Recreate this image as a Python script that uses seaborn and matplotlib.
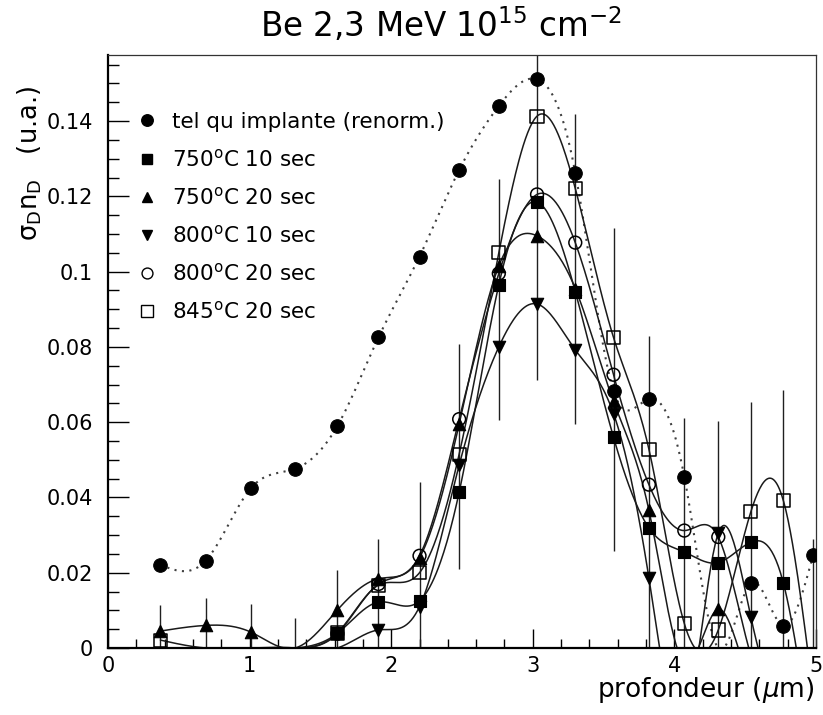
import numpy as np
import matplotlib
matplotlib.use("Agg")
import matplotlib.pyplot as plt
from matplotlib.lines import Line2D
from matplotlib.ticker import FixedLocator, MultipleLocator
import seaborn as sns

# depth of each measured slice (micrometres)
depth = [0.37, 0.69, 1.01, 1.32, 1.62, 1.91, 2.20, 2.48, 2.76, 3.03,
         3.30, 3.57, 3.82, 4.07, 4.31, 4.54, 4.77, 4.98]

# sigma_D * n_D profiles (arbitrary units); negative values fall below the plotted range
implante = [0.0221, 0.0232, 0.0425, 0.0476, 0.0590, 0.0825, 0.1040, 0.1270, 0.1440, 0.1511,
            0.1263, 0.0683, 0.0662, 0.0455, 0.0, 0.0172, 0.0059, 0.0247]
t750_10 = [0.0, 0.0, 0.0, 0.0, 0.0039, 0.0122, 0.0125, 0.0414, 0.0965, 0.1185,
           0.0947, 0.0560, 0.0319, 0.0255, 0.0227, 0.0281, 0.0172, -0.030]
t750_20 = [0.0045, 0.0060, 0.0042, 0.0, 0.0101, 0.0184, 0.0240, 0.0595, 0.1015, 0.1095,
           0.0955, 0.0655, 0.0366, -0.004, 0.0103, -0.010, -0.020, -0.030]
t800_10 = [0.0, 0.0, 0.0, 0.0, 0.0, 0.0048, 0.0110, 0.0486, 0.0800, 0.0914,
           0.0792, 0.0623, 0.0186, -0.020, 0.0305, 0.0082, -0.020, -0.030]
t800_20 = [0.0, 0.0, 0.0, 0.0, 0.0038, 0.0170, 0.0245, 0.0608, 0.0995, 0.1205,
           0.1077, 0.0726, 0.0434, 0.0312, 0.0295, -0.002, -0.020, -0.030]
t845_20 = [0.0021, 0.0, 0.0, 0.0, 0.0040, 0.0167, 0.0200, 0.0515, 0.1050, 0.1413,
           0.1221, 0.0825, 0.0528, 0.0065, 0.0048, 0.0362, 0.0391, -0.012]

# error bar extents at each depth
err_low = [-0.003, -0.001, -0.003, -0.008, -0.002, -0.001, -0.006, 0.0209, 0.0606, 0.0713,
           0.0596, 0.0258, -0.005, -0.010, -0.016, -0.010, -0.034, -0.004]
err_high = [0.0114, 0.0132, 0.0116, 0.0079, 0.0207, 0.0290, 0.0442, 0.0808, 0.1247, 0.1670,
            0.1418, 0.1116, 0.0830, 0.0611, 0.0602, 0.0654, 0.0686, 0.0290]

labels = ["tel qu implante (renorm.)",
          r"750$^{\rm o}$C 10 sec",
          r"750$^{\rm o}$C 20 sec",
          r"800$^{\rm o}$C 10 sec",
          r"800$^{\rm o}$C 20 sec",
          r"845$^{\rm o}$C 20 sec"]

xticks = [0, 1, 2, 3, 4, 5]
xtick_labels = ["0", "1", "2", "3", "4", "5"]
yticks = [0, 0.02, 0.04, 0.06, 0.08, 0.1, 0.12, 0.14]
ytick_labels = ["0", "0.02", "0.04", "0.06", "0.08", "0.1", "0.12", "0.14"]


def natural_spline(xk, yk, num=600):
    """Smooth curve through the points (natural cubic spline)."""
    xk = np.asarray(xk, float)
    yk = np.asarray(yk, float)
    n = len(xk)
    h = np.diff(xk)
    A = np.zeros((n, n))
    rhs = np.zeros(n)
    A[0, 0] = A[-1, -1] = 1.0
    for i in range(1, n - 1):
        A[i, i - 1] = h[i - 1]
        A[i, i] = 2 * (h[i - 1] + h[i])
        A[i, i + 1] = h[i]
        rhs[i] = 6 * ((yk[i + 1] - yk[i]) / h[i] - (yk[i] - yk[i - 1]) / h[i - 1])
    m = np.linalg.solve(A, rhs)
    xs = np.linspace(xk[0], xk[-1], num)
    j = np.clip(np.searchsorted(xk, xs) - 1, 0, n - 2)
    hj = h[j]
    t0 = xk[j + 1] - xs
    t1 = xs - xk[j]
    ys = ((m[j] * t0 ** 3 + m[j + 1] * t1 ** 3) / (6 * hj)
          + (yk[j] / hj - m[j] * hj / 6) * t0
          + (yk[j + 1] / hj - m[j + 1] * hj / 6) * t1)
    return xs, ys


sns.set_style("white")
plt.rcParams["font.family"] = ["DejaVu Sans"]
plt.rcParams["mathtext.fontset"] = "dejavusans"
plt.rcParams["text.color"] = "black"
plt.rcParams["axes.labelcolor"] = "black"
plt.rcParams["xtick.color"] = "black"
plt.rcParams["ytick.color"] = "black"

fig = plt.figure(figsize=(8.23, 7.15), dpi=100)
W, H = 823, 715
ax = fig.add_axes([108 / W, 1 - 648 / H, (816 - 108) / W, (648 - 55) / H])

series = [
    (implante, "o", True, 95, (0, (1, 2.6))),
    (t750_10, "s", True, 70, "-"),
    (t750_20, "^", True, 80, "-"),
    (t800_10, "v", True, 80, "-"),
    (t800_20, "o", False, 85, "-"),
    (t845_20, "s", False, 90, "-"),
]

# error bars
ax.vlines(depth, err_low, err_high, color="#202020", lw=1.0, zorder=1)

for vals, mk, filled, size, ls in series:
    xs, ys = natural_spline(depth, vals)
    sns.lineplot(x=xs, y=ys, ax=ax, color="#404040" if ls != "-" else "#1a1a1a",
                 lw=1.5 if ls != "-" else 1.1, linestyle=ls,
                 estimator=None, sort=False, legend=False, zorder=2)
    keep = [(d, v) for d, v in zip(depth, vals) if v > 0.0005]
    xv = [d for d, _ in keep]
    yv = [v for _, v in keep]
    if filled:
        sns.scatterplot(x=xv, y=yv, ax=ax, marker=mk, s=size, color="black",
                        edgecolor="black", linewidth=0.8, legend=False, zorder=4)
    else:
        sns.scatterplot(x=xv, y=yv, ax=ax, marker=mk, s=size, color="none",
                        edgecolor="black", linewidth=1.1, legend=False, zorder=3)

ax.set_xlim(0, 5)
ax.set_ylim(0, (648 - 55) / 3764)
ax.xaxis.set_major_locator(FixedLocator(xticks))
ax.set_xticklabels(xtick_labels)
ax.xaxis.set_minor_locator(MultipleLocator(0.2))
ax.yaxis.set_major_locator(FixedLocator(yticks))
ax.set_yticklabels(ytick_labels)
ax.yaxis.set_minor_locator(MultipleLocator(0.005))
ax.tick_params(which="both", direction="in", top=False, right=False,
               bottom=True, left=True, colors="black", labelsize=15, width=1.0)
ax.tick_params(axis="x", which="major", length=14, pad=6)
ax.tick_params(axis="x", which="minor", length=6.5)
ax.tick_params(axis="y", which="major", length=15, pad=11)
ax.tick_params(axis="y", which="minor", length=8)
for side in ["left", "bottom"]:
    ax.spines[side].set_linewidth(1.6)
    ax.spines[side].set_color("black")
for side in ["top", "right"]:
    ax.spines[side].set_linewidth(0.9)
    ax.spines[side].set_color("#333333")

handles = []
for vals, mk, filled, size, ls in series:
    handles.append(Line2D([], [], linestyle="none", marker=mk,
                          markersize=np.sqrt(size) * 0.85,
                          markerfacecolor="black" if filled else "none",
                          markeredgecolor="black", markeredgewidth=1.0))
ax.legend(handles, labels, loc="upper left", bbox_to_anchor=(0.040, 0.904),
          frameon=False, fontsize=15.5, handlelength=1.0, handletextpad=0.67,
          labelspacing=0.75, borderaxespad=0, borderpad=0)

fig.text(441 / W, 1 - 37 / H, r"Be 2,3 MeV 10$^{15}$ cm$^{-2}$",
         ha="center", va="baseline", fontsize=23.5)
fig.text(30 / W, 1 - 163 / H, r"$\mathregular{\sigma_D n_D}$   (u.a.)",
         rotation=90, ha="center", va="center", fontsize=18.5)
fig.text(815 / W, 1 - 697 / H, r"profondeur ($\mu$m)",
         ha="right", va="baseline", fontsize=19)

fig.savefig("out.png", dpi=100)
